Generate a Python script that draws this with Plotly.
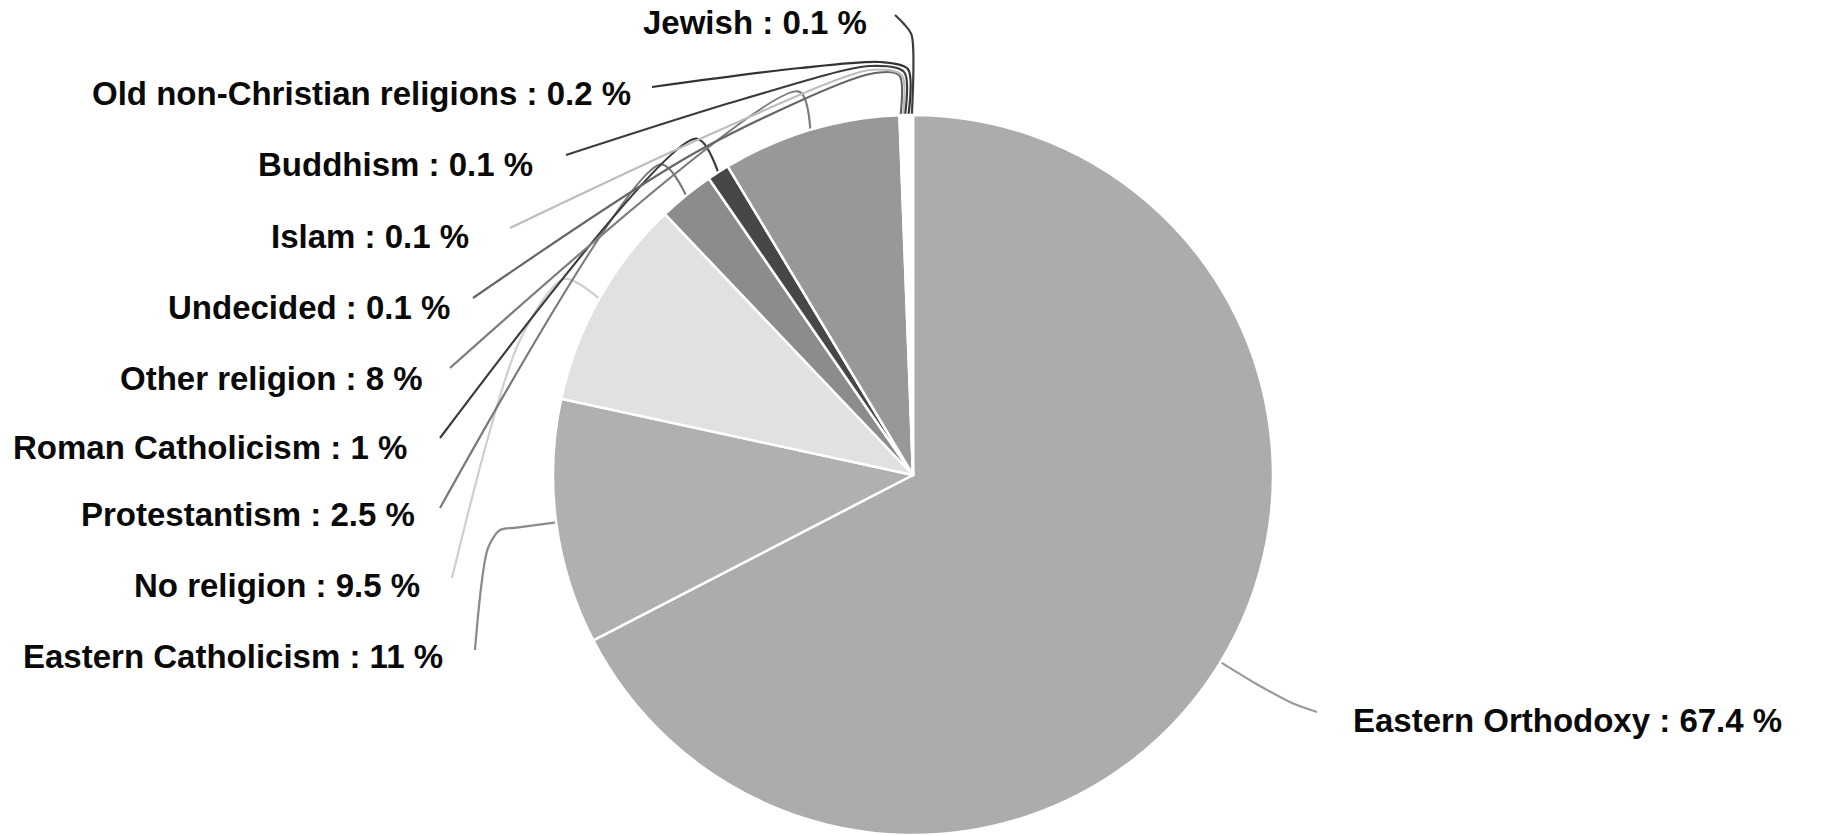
import math
import plotly.graph_objects as go

# ---- data ----
labels = ["Eastern Orthodoxy", "Eastern Catholicism", "No religion", "Protestantism",
          "Roman Catholicism", "Other religion", "Undecided", "Islam", "Buddhism",
          "Old non-Christian religions", "Jewish"]
values = [67.4, 11, 9.5, 2.5, 1, 8, 0.1, 0.1, 0.1, 0.2, 0.1]
value_text = ["67.4", "11", "9.5", "2.5", "1", "8", "0.1", "0.1", "0.1", "0.2", "0.1"]

# ---- styles ----
slice_colors = ["#acacac", "#b0b0b0", "#e1e1e1", "#8c8c8c", "#474747", "#989898",
                "#ffffff", "#ffffff", "#ffffff", "#ffffff", "#ffffff"]
line_colors = ["#9a9a9a", "#8a8a8a", "#cfcfcf", "#7a7a7a", "#3c3c3c", "#7d7d7d",
               "#666666", "#bdbdbd", "#3c3c3c", "#333333", "#3c3c3c"]

# ---- layout (pixel geometry) ----
W, H = 1822, 836
CX, CY, R = 913, 475, 360

# label anchor: (x, y, xanchor)
label_pos = [(1351, 720, "left"), (445, 656, "right"), (422, 585, "right"),
             (417, 514, "right"), (409, 447, "right"), (425, 378, "right"),
             (452, 307, "right"), (471, 236, "right"), (535, 164, "right"),
             (633, 93, "right"), (869, 22, "right")]
# leader line start near label
line_start = [(1317, 712), (475, 650), (452, 578), (440, 508), (440, 438), (450, 368),
              (473, 298), (510, 228), (566, 155), (652, 87), (895, 15)]
# extra waypoints between label and elbow
line_via = [[(1292, 703)], [(488, 548), (500, 530)], [(520, 340)], [], [], [],
            [(700, 150), (870, 74)], [(720, 130), (870, 70)], [(740, 100), (870, 66)],
            [(800, 68), (880, 62)], [(904, 24)]]
elbow_len = [40, 40, 40, 40, 40, 40, 40, 40, 43, 46, 80]

total = sum(values)
cum = 0.0
anchors, elbows = [], []
for v, L in zip(values, elbow_len):
    mid = (cum + v / 2) / total * 2 * math.pi
    cum += v
    dx, dy = math.sin(mid), -math.cos(mid)
    anchors.append((CX + R * dx, CY + R * dy))
    elbows.append((CX + (R + L) * dx, CY + (R + L) * dy))

fig = go.Figure()

# leader lines
for i in range(len(labels)):
    pts = [line_start[i]] + line_via[i] + [elbows[i], anchors[i]]
    fig.add_trace(go.Scatter(
        x=[p[0] for p in pts], y=[p[1] for p in pts], mode="lines",
        line=dict(color=line_colors[i], width=2.2, shape="spline", smoothing=0.8),
        hoverinfo="skip", showlegend=False))

# pie
fig.add_trace(go.Pie(
    labels=labels, values=values, sort=False, direction="clockwise", rotation=0,
    marker=dict(colors=slice_colors, line=dict(color="white", width=2.5)),
    textinfo="none", showlegend=False,
    domain=dict(x=[(CX - R) / W, (CX + R) / W], y=[(H - CY - R) / H, (H - CY + R) / H])))

for i, lab in enumerate(labels):
    x, y, xa = label_pos[i]
    fig.add_annotation(x=x, y=y, xref="x", yref="y", text=f"{lab} : {value_text[i]} %",
                       showarrow=False, xanchor=xa, yanchor="middle",
                       font=dict(family="Liberation Sans, Arial, sans-serif", size=33,
                                 color="#0a0a0a", weight="bold"))

fig.update_layout(
    width=W, height=H, margin=dict(l=0, r=0, t=0, b=0),
    paper_bgcolor="white", plot_bgcolor="white",
    xaxis=dict(range=[0, W], visible=False, fixedrange=True, domain=[0, 1]),
    yaxis=dict(range=[H, 0], visible=False, fixedrange=True, domain=[0, 1]),
)

fig.write_html("out.html")
